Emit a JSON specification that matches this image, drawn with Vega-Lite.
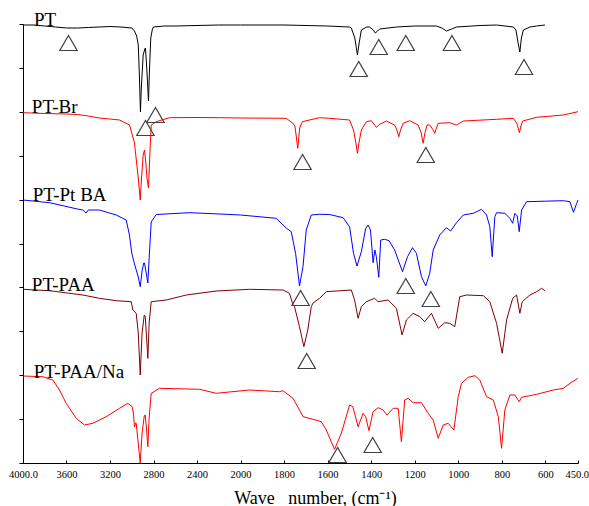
{
  "$schema": "https://vega.github.io/schema/vega-lite/v6.json",
  "autosize": {"type": "none"},
  "padding": {"left": 23, "top": 24, "right": 11, "bottom": 43},
  "width": 555,
  "height": 439,
  "background": "white",
  "config": {"view": {"stroke": null}, "font": "Liberation Serif"},
  "datasets": {
    "spectra": [
      {"s":"PT","w":4000,"v":438},{"s":"PT","w":3900,"v":438},{"s":"PT","w":3800,"v":437},{"s":"PT","w":3700,"v":436},{"s":"PT","w":3600,"v":435},{"s":"PT","w":3500,"v":435},{"s":"PT","w":3400,"v":435.5},{"s":"PT","w":3300,"v":436},{"s":"PT","w":3200,"v":436.5},{"s":"PT","w":3100,"v":436},{"s":"PT","w":3000,"v":435},{"s":"PT","w":2975,"v":432},{"s":"PT","w":2955,"v":427},{"s":"PT","w":2940,"v":418},{"s":"PT","w":2930,"v":388},{"s":"PT","w":2920,"v":351},{"s":"PT","w":2912,"v":375},{"s":"PT","w":2895,"v":408},{"s":"PT","w":2880,"v":414},{"s":"PT","w":2874,"v":415},{"s":"PT","w":2862,"v":395},{"s":"PT","w":2846,"v":362},{"s":"PT","w":2838,"v":390},{"s":"PT","w":2825,"v":425},{"s":"PT","w":2810,"v":434},{"s":"PT","w":2800,"v":436},{"s":"PT","w":2700,"v":437},{"s":"PT","w":2600,"v":437},{"s":"PT","w":2400,"v":437.5},{"s":"PT","w":2200,"v":438},{"s":"PT","w":2000,"v":438},{"s":"PT","w":1800,"v":438},{"s":"PT","w":1600,"v":437},{"s":"PT","w":1500,"v":436},{"s":"PT","w":1491,"v":435},{"s":"PT","w":1475,"v":425},{"s":"PT","w":1463,"v":408},{"s":"PT","w":1455,"v":420},{"s":"PT","w":1445,"v":433},{"s":"PT","w":1420,"v":436},{"s":"PT","w":1407,"v":436},{"s":"PT","w":1390,"v":433},{"s":"PT","w":1381,"v":430},{"s":"PT","w":1370,"v":432},{"s":"PT","w":1361,"v":434},{"s":"PT","w":1284,"v":436},{"s":"PT","w":1200,"v":437},{"s":"PT","w":1100,"v":437},{"s":"PT","w":1075,"v":435},{"s":"PT","w":1054,"v":432},{"s":"PT","w":1030,"v":434},{"s":"PT","w":1008,"v":436},{"s":"PT","w":900,"v":437.5},{"s":"PT","w":824,"v":438},{"s":"PT","w":747,"v":436},{"s":"PT","w":735,"v":433},{"s":"PT","w":725,"v":420},{"s":"PT","w":717,"v":411},{"s":"PT","w":710,"v":425},{"s":"PT","w":701,"v":433},{"s":"PT","w":671,"v":436},{"s":"PT","w":640,"v":437},{"s":"PT","w":602,"v":438},

      {"s":"PT-Br","w":4000,"v":350.3},{"s":"PT-Br","w":3800,"v":349.5},{"s":"PT-Br","w":3600,"v":349},{"s":"PT-Br","w":3500,"v":348.5},{"s":"PT-Br","w":3400,"v":347},{"s":"PT-Br","w":3300,"v":345},{"s":"PT-Br","w":3200,"v":344},{"s":"PT-Br","w":3113,"v":343},{"s":"PT-Br","w":3020,"v":338},{"s":"PT-Br","w":2975,"v":320},{"s":"PT-Br","w":2960,"v":305},{"s":"PT-Br","w":2940,"v":285},{"s":"PT-Br","w":2922,"v":263},{"s":"PT-Br","w":2910,"v":285},{"s":"PT-Br","w":2895,"v":308},{"s":"PT-Br","w":2883,"v":313},{"s":"PT-Br","w":2870,"v":300},{"s":"PT-Br","w":2860,"v":285},{"s":"PT-Br","w":2846,"v":275},{"s":"PT-Br","w":2835,"v":305},{"s":"PT-Br","w":2821,"v":338},{"s":"PT-Br","w":2775,"v":341.3},{"s":"PT-Br","w":2653,"v":345.3},{"s":"PT-Br","w":2400,"v":345.5},{"s":"PT-Br","w":2193,"v":345.3},{"s":"PT-Br","w":2000,"v":345},{"s":"PT-Br","w":1790,"v":344.7},{"s":"PT-Br","w":1761,"v":340},{"s":"PT-Br","w":1750,"v":337},{"s":"PT-Br","w":1737,"v":314.7},{"s":"PT-Br","w":1728,"v":335},{"s":"PT-Br","w":1716,"v":341.3},{"s":"PT-Br","w":1637,"v":345.3},{"s":"PT-Br","w":1591,"v":344.7},{"s":"PT-Br","w":1499,"v":343},{"s":"PT-Br","w":1481,"v":333},{"s":"PT-Br","w":1470,"v":320},{"s":"PT-Br","w":1463,"v":309.7},{"s":"PT-Br","w":1456,"v":320},{"s":"PT-Br","w":1445,"v":333},{"s":"PT-Br","w":1422,"v":341.3},{"s":"PT-Br","w":1399,"v":342.3},{"s":"PT-Br","w":1376,"v":335.7},{"s":"PT-Br","w":1361,"v":338.7},{"s":"PT-Br","w":1330,"v":342},{"s":"PT-Br","w":1292,"v":338},{"s":"PT-Br","w":1282,"v":333},{"s":"PT-Br","w":1273,"v":326.3},{"s":"PT-Br","w":1265,"v":333},{"s":"PT-Br","w":1253,"v":339.7},{"s":"PT-Br","w":1223,"v":342.3},{"s":"PT-Br","w":1184,"v":338},{"s":"PT-Br","w":1170,"v":330},{"s":"PT-Br","w":1161,"v":319.7},{"s":"PT-Br","w":1153,"v":330},{"s":"PT-Br","w":1143,"v":338},{"s":"PT-Br","w":1131,"v":338},{"s":"PT-Br","w":1115,"v":333},{"s":"PT-Br","w":1108,"v":329.7},{"s":"PT-Br","w":1100,"v":335},{"s":"PT-Br","w":1092,"v":339.7},{"s":"PT-Br","w":1039,"v":340.3},{"s":"PT-Br","w":1008,"v":338},{"s":"PT-Br","w":977,"v":342},{"s":"PT-Br","w":824,"v":343.7},{"s":"PT-Br","w":747,"v":344.7},{"s":"PT-Br","w":731,"v":339.7},{"s":"PT-Br","w":725,"v":335},{"s":"PT-Br","w":719,"v":330.3},{"s":"PT-Br","w":712,"v":337},{"s":"PT-Br","w":704,"v":342},{"s":"PT-Br","w":640,"v":345.7},{"s":"PT-Br","w":517,"v":348},{"s":"PT-Br","w":450,"v":351.3},

      {"s":"PT-Pt BA","w":4000,"v":263},{"s":"PT-Pt BA","w":3756,"v":260.3},{"s":"PT-Pt BA","w":3500,"v":254},{"s":"PT-Pt BA","w":3450,"v":253},{"s":"PT-Pt BA","w":3420,"v":250},{"s":"PT-Pt BA","w":3400,"v":253},{"s":"PT-Pt BA","w":3297,"v":253},{"s":"PT-Pt BA","w":3143,"v":248},{"s":"PT-Pt BA","w":3051,"v":243},{"s":"PT-Pt BA","w":3021,"v":228},{"s":"PT-Pt BA","w":3000,"v":210},{"s":"PT-Pt BA","w":2975,"v":199},{"s":"PT-Pt BA","w":2959,"v":193},{"s":"PT-Pt BA","w":2940,"v":186},{"s":"PT-Pt BA","w":2922,"v":176.3},{"s":"PT-Pt BA","w":2905,"v":192},{"s":"PT-Pt BA","w":2890,"v":200},{"s":"PT-Pt BA","w":2883,"v":200},{"s":"PT-Pt BA","w":2870,"v":192},{"s":"PT-Pt BA","w":2852,"v":180},{"s":"PT-Pt BA","w":2840,"v":205},{"s":"PT-Pt BA","w":2821,"v":241},{"s":"PT-Pt BA","w":2775,"v":248.5},{"s":"PT-Pt BA","w":2469,"v":250.3},{"s":"PT-Pt BA","w":2193,"v":249},{"s":"PT-Pt BA","w":2000,"v":248},{"s":"PT-Pt BA","w":1836,"v":244.7},{"s":"PT-Pt BA","w":1790,"v":235},{"s":"PT-Pt BA","w":1767,"v":231.3},{"s":"PT-Pt BA","w":1747,"v":209.7},{"s":"PT-Pt BA","w":1729,"v":177},{"s":"PT-Pt BA","w":1713,"v":196.3},{"s":"PT-Pt BA","w":1698,"v":233},{"s":"PT-Pt BA","w":1675,"v":248},{"s":"PT-Pt BA","w":1637,"v":248.7},{"s":"PT-Pt BA","w":1591,"v":248.5},{"s":"PT-Pt BA","w":1529,"v":245.3},{"s":"PT-Pt BA","w":1499,"v":236.3},{"s":"PT-Pt BA","w":1481,"v":209.7},{"s":"PT-Pt BA","w":1465,"v":197},{"s":"PT-Pt BA","w":1445,"v":211.3},{"s":"PT-Pt BA","w":1425,"v":234.7},{"s":"PT-Pt BA","w":1414,"v":238},{"s":"PT-Pt BA","w":1403,"v":233},{"s":"PT-Pt BA","w":1391,"v":200.3},{"s":"PT-Pt BA","w":1383,"v":213},{"s":"PT-Pt BA","w":1376,"v":206.3},{"s":"PT-Pt BA","w":1365,"v":185.7},{"s":"PT-Pt BA","w":1356,"v":223},{"s":"PT-Pt BA","w":1338,"v":223.7},{"s":"PT-Pt BA","w":1318,"v":222.3},{"s":"PT-Pt BA","w":1292,"v":213},{"s":"PT-Pt BA","w":1256,"v":191.3},{"s":"PT-Pt BA","w":1233,"v":206.3},{"s":"PT-Pt BA","w":1210,"v":215.3},{"s":"PT-Pt BA","w":1192,"v":209.7},{"s":"PT-Pt BA","w":1169,"v":186.3},{"s":"PT-Pt BA","w":1149,"v":177},{"s":"PT-Pt BA","w":1131,"v":189.7},{"s":"PT-Pt BA","w":1115,"v":213},{"s":"PT-Pt BA","w":1085,"v":228},{"s":"PT-Pt BA","w":1054,"v":235.3},{"s":"PT-Pt BA","w":1035,"v":232},{"s":"PT-Pt BA","w":1008,"v":240.3},{"s":"PT-Pt BA","w":977,"v":248},{"s":"PT-Pt BA","w":931,"v":249.7},{"s":"PT-Pt BA","w":893,"v":253.7},{"s":"PT-Pt BA","w":870,"v":248},{"s":"PT-Pt BA","w":855,"v":236.3},{"s":"PT-Pt BA","w":844,"v":206.3},{"s":"PT-Pt BA","w":832,"v":246.3},{"s":"PT-Pt BA","w":824,"v":250.3},{"s":"PT-Pt BA","w":786,"v":249.7},{"s":"PT-Pt BA","w":763,"v":244.7},{"s":"PT-Pt BA","w":750,"v":239.7},{"s":"PT-Pt BA","w":740,"v":249.7},{"s":"PT-Pt BA","w":729,"v":247},{"s":"PT-Pt BA","w":720,"v":231.3},{"s":"PT-Pt BA","w":709,"v":253},{"s":"PT-Pt BA","w":686,"v":261.3},{"s":"PT-Pt BA","w":517,"v":262.3},{"s":"PT-Pt BA","w":487,"v":261.3},{"s":"PT-Pt BA","w":471,"v":250.7},{"s":"PT-Pt BA","w":456,"v":259.7},{"s":"PT-Pt BA","w":450,"v":263},

      {"s":"PT-PAA","w":4000,"v":173.7},{"s":"PT-PAA","w":3756,"v":172.3},{"s":"PT-PAA","w":3450,"v":168},{"s":"PT-PAA","w":3297,"v":164.7},{"s":"PT-PAA","w":3143,"v":162.3},{"s":"PT-PAA","w":3005,"v":161.3},{"s":"PT-PAA","w":2990,"v":153},{"s":"PT-PAA","w":2959,"v":149.7},{"s":"PT-PAA","w":2940,"v":130},{"s":"PT-PAA","w":2922,"v":88},{"s":"PT-PAA","w":2905,"v":130},{"s":"PT-PAA","w":2885,"v":148},{"s":"PT-PAA","w":2876,"v":146.3},{"s":"PT-PAA","w":2865,"v":128},{"s":"PT-PAA","w":2852,"v":104.7},{"s":"PT-PAA","w":2840,"v":140},{"s":"PT-PAA","w":2821,"v":161.3},{"s":"PT-PAA","w":2683,"v":163},{"s":"PT-PAA","w":2499,"v":168},{"s":"PT-PAA","w":2224,"v":172},{"s":"PT-PAA","w":1959,"v":173.7},{"s":"PT-PAA","w":1805,"v":173},{"s":"PT-PAA","w":1775,"v":169.7},{"s":"PT-PAA","w":1759,"v":158},{"s":"PT-PAA","w":1752,"v":156.3},{"s":"PT-PAA","w":1729,"v":136.3},{"s":"PT-PAA","w":1709,"v":116.3},{"s":"PT-PAA","w":1691,"v":133},{"s":"PT-PAA","w":1675,"v":156.3},{"s":"PT-PAA","w":1667,"v":160},{"s":"PT-PAA","w":1637,"v":164.7},{"s":"PT-PAA","w":1606,"v":171.3},{"s":"PT-PAA","w":1491,"v":173},{"s":"PT-PAA","w":1476,"v":163},{"s":"PT-PAA","w":1460,"v":144.7},{"s":"PT-PAA","w":1445,"v":156.3},{"s":"PT-PAA","w":1422,"v":161.3},{"s":"PT-PAA","w":1384,"v":164.7},{"s":"PT-PAA","w":1368,"v":161.3},{"s":"PT-PAA","w":1322,"v":163},{"s":"PT-PAA","w":1284,"v":154.7},{"s":"PT-PAA","w":1258,"v":128},{"s":"PT-PAA","w":1238,"v":143},{"s":"PT-PAA","w":1207,"v":149.7},{"s":"PT-PAA","w":1177,"v":146.3},{"s":"PT-PAA","w":1154,"v":141.3},{"s":"PT-PAA","w":1123,"v":149.7},{"s":"PT-PAA","w":1092,"v":134.7},{"s":"PT-PAA","w":1062,"v":140.3},{"s":"PT-PAA","w":1039,"v":139.7},{"s":"PT-PAA","w":1016,"v":136.3},{"s":"PT-PAA","w":993,"v":166.3},{"s":"PT-PAA","w":962,"v":168},{"s":"PT-PAA","w":885,"v":167.3},{"s":"PT-PAA","w":855,"v":161.3},{"s":"PT-PAA","w":824,"v":139.7},{"s":"PT-PAA","w":798,"v":109.7},{"s":"PT-PAA","w":778,"v":143},{"s":"PT-PAA","w":750,"v":164.7},{"s":"PT-PAA","w":732,"v":168},{"s":"PT-PAA","w":717,"v":149.7},{"s":"PT-PAA","w":706,"v":161.3},{"s":"PT-PAA","w":671,"v":168},{"s":"PT-PAA","w":640,"v":171.3},{"s":"PT-PAA","w":617,"v":174.7},{"s":"PT-PAA","w":602,"v":172.3},

      {"s":"PT-PAA/Na","w":4000,"v":87},{"s":"PT-PAA/Na","w":3818,"v":86.3},{"s":"PT-PAA/Na","w":3726,"v":83},{"s":"PT-PAA/Na","w":3664,"v":73},{"s":"PT-PAA/Na","w":3603,"v":59.7},{"s":"PT-PAA/Na","w":3511,"v":44.7},{"s":"PT-PAA/Na","w":3435,"v":38},{"s":"PT-PAA/Na","w":3358,"v":39.7},{"s":"PT-PAA/Na","w":3235,"v":46.3},{"s":"PT-PAA/Na","w":3113,"v":54.7},{"s":"PT-PAA/Na","w":3036,"v":59.7},{"s":"PT-PAA/Na","w":2996,"v":56.3},{"s":"PT-PAA/Na","w":2985,"v":50},{"s":"PT-PAA/Na","w":2975,"v":36.3},{"s":"PT-PAA/Na","w":2965,"v":40},{"s":"PT-PAA/Na","w":2959,"v":39.7},{"s":"PT-PAA/Na","w":2945,"v":25},{"s":"PT-PAA/Na","w":2922,"v":0},{"s":"PT-PAA/Na","w":2905,"v":30},{"s":"PT-PAA/Na","w":2885,"v":47},{"s":"PT-PAA/Na","w":2876,"v":48},{"s":"PT-PAA/Na","w":2865,"v":35},{"s":"PT-PAA/Na","w":2852,"v":16.3},{"s":"PT-PAA/Na","w":2840,"v":45},{"s":"PT-PAA/Na","w":2821,"v":69.7},{"s":"PT-PAA/Na","w":2745,"v":74.7},{"s":"PT-PAA/Na","w":2377,"v":73.7},{"s":"PT-PAA/Na","w":2224,"v":69.7},{"s":"PT-PAA/Na","w":1959,"v":73},{"s":"PT-PAA/Na","w":1821,"v":71.3},{"s":"PT-PAA/Na","w":1805,"v":72.3},{"s":"PT-PAA/Na","w":1759,"v":64.7},{"s":"PT-PAA/Na","w":1729,"v":53},{"s":"PT-PAA/Na","w":1713,"v":46.3},{"s":"PT-PAA/Na","w":1667,"v":43.7},{"s":"PT-PAA/Na","w":1629,"v":41.3},{"s":"PT-PAA/Na","w":1606,"v":33},{"s":"PT-PAA/Na","w":1568,"v":13.7},{"s":"PT-PAA/Na","w":1537,"v":29.7},{"s":"PT-PAA/Na","w":1499,"v":58},{"s":"PT-PAA/Na","w":1484,"v":56.3},{"s":"PT-PAA/Na","w":1460,"v":36.3},{"s":"PT-PAA/Na","w":1437,"v":49.7},{"s":"PT-PAA/Na","w":1425,"v":46.3},{"s":"PT-PAA/Na","w":1410,"v":32.3},{"s":"PT-PAA/Na","w":1391,"v":51.3},{"s":"PT-PAA/Na","w":1368,"v":55.3},{"s":"PT-PAA/Na","w":1345,"v":53},{"s":"PT-PAA/Na","w":1327,"v":48},{"s":"PT-PAA/Na","w":1299,"v":54.7},{"s":"PT-PAA/Na","w":1276,"v":54.7},{"s":"PT-PAA/Na","w":1261,"v":21.3},{"s":"PT-PAA/Na","w":1246,"v":63},{"s":"PT-PAA/Na","w":1230,"v":64.7},{"s":"PT-PAA/Na","w":1207,"v":60.3},{"s":"PT-PAA/Na","w":1169,"v":60.3},{"s":"PT-PAA/Na","w":1138,"v":49.7},{"s":"PT-PAA/Na","w":1115,"v":43},{"s":"PT-PAA/Na","w":1092,"v":24.7},{"s":"PT-PAA/Na","w":1069,"v":38},{"s":"PT-PAA/Na","w":1046,"v":39.7},{"s":"PT-PAA/Na","w":1020,"v":33},{"s":"PT-PAA/Na","w":1000,"v":66.3},{"s":"PT-PAA/Na","w":985,"v":79.7},{"s":"PT-PAA/Na","w":954,"v":85.7},{"s":"PT-PAA/Na","w":923,"v":87.3},{"s":"PT-PAA/Na","w":901,"v":83},{"s":"PT-PAA/Na","w":870,"v":66.3},{"s":"PT-PAA/Na","w":839,"v":63},{"s":"PT-PAA/Na","w":816,"v":46.3},{"s":"PT-PAA/Na","w":801,"v":14.7},{"s":"PT-PAA/Na","w":786,"v":53},{"s":"PT-PAA/Na","w":763,"v":68},{"s":"PT-PAA/Na","w":740,"v":68},{"s":"PT-PAA/Na","w":720,"v":61.3},{"s":"PT-PAA/Na","w":709,"v":65.7},{"s":"PT-PAA/Na","w":640,"v":68.7},{"s":"PT-PAA/Na","w":563,"v":73},{"s":"PT-PAA/Na","w":517,"v":74.7},{"s":"PT-PAA/Na","w":487,"v":79.7},{"s":"PT-PAA/Na","w":451,"v":84.7}
    ],
    "markers": [
      {"w":3582,"v":420},{"w":1457,"v":394},{"w":1365,"v":416},{"w":1241,"v":420},{"w":1029,"v":420},{"w":698,"v":396},
      {"w":2782,"v":348},{"w":2874,"v":335},{"w":1715,"v":301},{"w":1149,"v":308},
      {"w":1724,"v":165},{"w":1241,"v":177},{"w":1126,"v":164},
      {"w":1696,"v":102},
      {"w":1554,"v":8},{"w":1393,"v":18}
    ],
    "labels": [
      {"t":"PT","w":3900,"v":437},
      {"t":"PT-Br","w":3919,"v":349.7},
      {"t":"PT-Pt BA","w":3910,"v":262.3},
      {"t":"PT-PAA","w":3919,"v":172},
      {"t":"PT-PAA/Na","w":3901,"v":84.7}
    ]
  },
  "encoding": {
    "x": {
      "field": "w", "type": "quantitative",
      "scale": {"domain": [4000, 2000, 450], "range": [0, 217.5, 555], "nice": false, "zero": false},
      "axis": {
        "values": [4000, 3600, 3200, 2800, 2400, 2000, 1800, 1600, 1400, 1200, 1000, 800, 600, 450],
        "labelExpr": "datum.value == 4000 ? '4000.0' : datum.value == 450 ? '450.0' : format(datum.value, 'd')",
        "labelFont": "Liberation Serif", "labelFontSize": 10.5, "labelColor": "#000000",
        "labelPadding": 9, "labelFlush": false, "labelOverlap": false,
        "labelAlign": {"condition": {"test": "datum.value == 450", "value": "right"}, "value": "center"},
        "labelOffset": {"condition": {"test": "datum.value == 450", "value": 10.5}, "value": 0},
        "tickSize": -3, "tickColor": "#000000", "domainColor": "#000000", "grid": false,
        "title": "Wave \u2002number, (cm⁻¹)",
        "titleFont": "Liberation Serif", "titleFontSize": 18, "titleFontWeight": "normal", "titleColor": "#000000",
        "titleX": 292, "titleY": 40, "titleAlign": "center", "titleBaseline": "alphabetic"
      }
    },
    "y": {
      "field": "v", "type": "quantitative",
      "scale": {"domain": [0, 439], "nice": false, "zero": false},
      "axis": {
        "values": [0, 43.9, 87.8, 131.7, 175.6, 219.5, 263.4, 307.3, 351.2, 395.1, 439],
        "labels": false, "title": null, "grid": false, "tickSize": 4,
        "tickColor": "#000000", "domainColor": "#000000"
      }
    }
  },
  "layer": [
    {
      "data": {"name": "spectra"},
      "mark": {"type": "line", "strokeWidth": 1, "interpolate": "linear"},
      "encoding": {
        "color": {
          "field": "s", "type": "nominal",
          "scale": {"domain": ["PT", "PT-Br", "PT-Pt BA", "PT-PAA", "PT-PAA/Na"], "range": ["#000000", "#ff0000", "#0000ff", "#800000", "#ff0000"]},
          "legend": null
        }
      }
    },
    {
      "data": {"name": "markers"},
      "mark": {"type": "point", "shape": "triangle-up", "filled": false, "size": 300, "stroke": "#404040", "strokeWidth": 1.2, "opacity": 1}
    },
    {
      "data": {"name": "labels"},
      "mark": {"type": "text", "align": "left", "baseline": "alphabetic", "font": "Liberation Serif", "fontSize": 19, "color": "#000000"},
      "encoding": {"text": {"field": "t"}}
    }
  ]
}
